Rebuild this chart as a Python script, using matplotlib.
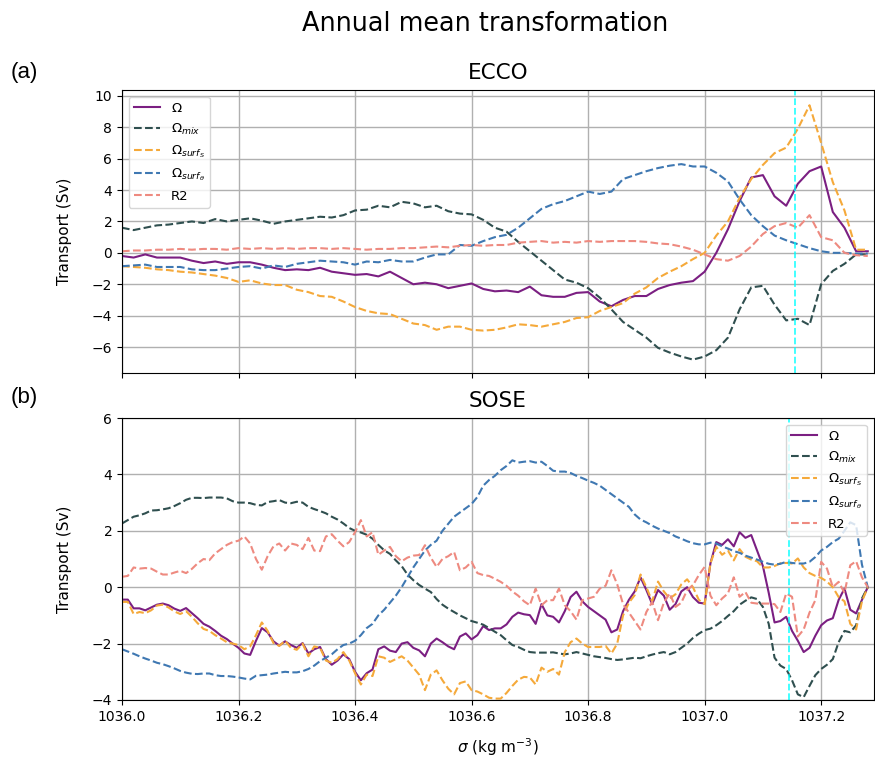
import numpy as np
import matplotlib
matplotlib.use("Agg")
import matplotlib.pyplot as plt

# ---------------- ECCO (step 0.02) ----------------
sigma_ecco = np.round(np.linspace(1036.0, 1037.28, 65), 2)

ecco_omega = [-0.2, -0.3, -0.1, -0.3, -0.3, -0.3, -0.5, -0.65, -0.55, -0.7,
              -0.6, -0.6, -0.75, -0.95, -1.1, -1.05, -1.1, -0.95, -1.2, -1.3,
              -1.4, -1.35, -1.5, -1.2, -1.6, -2.0, -1.9, -2.0, -2.25, -2.1,
              -1.95, -2.3, -2.45, -2.4, -2.5, -2.15, -2.7, -2.8, -2.8, -2.55,
              -2.5, -3.1, -3.4, -3.0, -2.75, -2.75, -2.3, -2.05, -1.9, -1.8,
              -1.2, 0.0, 1.5, 3.3, 4.8, 4.95, 3.6, 3.0, 4.4, 5.2,
              5.5, 2.6, 1.6, 0.1, 0.1]

ecco_mix = [1.6, 1.45, 1.6, 1.75, 1.8, 1.9, 2.0, 1.9, 2.15, 2.0,
            2.1, 2.2, 2.05, 1.85, 2.0, 2.1, 2.2, 2.3, 2.25, 2.4,
            2.7, 2.75, 3.0, 2.9, 3.25, 3.15, 2.9, 3.0, 2.65, 2.5,
            2.45, 2.1, 1.6, 1.35, 0.7, 0.1, -0.5, -1.1, -1.7, -1.9,
            -2.25, -2.85, -3.6, -4.4, -4.9, -5.4, -6.05, -6.35, -6.6, -6.8,
            -6.6, -6.2, -5.4, -3.6, -2.2, -2.1, -3.3, -4.3, -4.2, -4.6,
            -2.0, -1.15, -0.7, -0.1, -0.1]

ecco_surf_s = [-0.85, -0.9, -0.95, -1.05, -1.1, -1.2, -1.25, -1.35, -1.45, -1.6,
               -1.85, -1.75, -1.95, -2.05, -2.05, -2.35, -2.5, -2.75, -2.8, -3.1,
               -3.45, -3.7, -3.85, -3.9, -4.2, -4.5, -4.6, -4.9, -4.7, -4.7,
               -4.9, -4.95, -4.9, -4.75, -4.55, -4.6, -4.7, -4.55, -4.4, -4.15,
               -4.1, -3.7, -3.45, -3.2, -2.6, -2.2, -1.6, -1.2, -0.85, -0.4,
               0.0, 1.1, 2.0, 3.5, 4.7, 5.6, 6.35, 6.7, 7.9, 9.4,
               7.0, 4.5, 2.7, 0.2, 0.2]

ecco_surf_t = [-0.85, -0.8, -0.75, -0.9, -0.9, -0.9, -1.05, -1.1, -1.1, -1.0,
               -0.9, -0.85, -1.0, -0.8, -0.9, -0.7, -0.6, -0.5, -0.55, -0.6,
               -0.75, -0.55, -0.6, -0.45, -0.55, -0.55, -0.3, -0.1, -0.1, 0.5,
               0.45, 0.75, 1.0, 1.15, 1.6, 2.2, 2.8, 3.1, 3.3, 3.6,
               3.9, 3.75, 3.9, 4.7, 4.95, 5.2, 5.4, 5.55, 5.65, 5.5,
               5.5, 5.1, 4.55, 3.4, 2.4, 1.7, 1.1, 0.8, 0.55, 0.3,
               0.1, 0.0, 0.0, -0.05, -0.05]

ecco_r2 = [0.1, 0.15, 0.15, 0.2, 0.2, 0.25, 0.2, 0.25, 0.25, 0.2,
           0.3, 0.25, 0.3, 0.25, 0.3, 0.25, 0.3, 0.3, 0.25, 0.3,
           0.25, 0.2, 0.25, 0.25, 0.3, 0.3, 0.35, 0.4, 0.35, 0.45,
           0.5, 0.45, 0.5, 0.5, 0.65, 0.7, 0.75, 0.65, 0.7, 0.65,
           0.75, 0.7, 0.75, 0.75, 0.75, 0.7, 0.6, 0.55, 0.4, 0.2,
           -0.1, -0.4, -0.5, -0.2, 0.4, 1.2, 1.7, 1.9, 1.6, 2.4,
           1.0, 0.8, 0.0, -0.15, -0.2]

# ---------------- SOSE (step 0.01) ----------------
sigma_sose = np.round(np.linspace(1036.0, 1037.28, 129), 2)

sose_omega = [-0.44, -0.44, -0.75, -0.75, -0.82, -0.72, -0.62, -0.58, -0.64, -0.76,
              -0.84, -0.74, -0.92, -1.1, -1.3, -1.40, -1.55, -1.72, -1.84, -2.0,
              -2.15, -2.35, -2.40, -1.9, -1.45, -1.6, -1.92, -2.07, -1.92, -2.05,
              -2.15, -1.98, -2.35, -2.2, -2.12, -2.55, -2.75, -2.6, -2.38, -2.55,
              -3.0, -3.3, -3.05, -2.92, -2.2, -2.1, -2.25, -2.3, -2.0, -1.95,
              -2.15, -2.24, -2.45, -2.0, -1.82, -1.95, -2.1, -2.2, -1.75, -1.64,
              -1.85, -1.7, -1.38, -1.52, -1.46, -1.46, -1.32, -1.05, -0.9, -0.96,
              -0.99, -1.3, -0.6, -1.0, -1.05, -1.25, -0.85, -0.35, -0.16, -0.5,
              -0.7, -0.85, -1.0, -1.15, -1.6, -1.5, -0.85, -0.45, -0.15, 0.35,
              -0.1, -0.6, -0.1, -0.3, -0.8, -0.6, -0.15, 0.0, -0.35, -0.55,
              -0.58, 0.85, 1.6, 1.5, 1.7, 1.45, 1.95, 1.75, 1.85, 1.3,
              0.75, -0.2, -1.25, -1.2, -1.05, -1.55, -1.9, -2.3, -2.15, -1.72,
              -1.35, -1.18, -1.1, -0.45, -0.05, -0.8, -0.93, -0.45, 0.0]

sose_mix = [2.26, 2.38, 2.5, 2.55, 2.62, 2.72, 2.73, 2.76, 2.8, 2.88,
            2.98, 3.1, 3.17, 3.17, 3.16, 3.18, 3.18, 3.18, 3.15, 3.05,
            3.0, 3.0, 2.98, 2.92, 2.9, 3.02, 3.05, 3.09, 3.0, 2.98,
            3.03, 3.0, 2.85, 2.77, 2.7, 2.62, 2.5, 2.4, 2.26, 2.1,
            2.0, 1.94, 1.86, 1.72, 1.5, 1.31, 1.18, 0.95, 0.75, 0.45,
            0.25, 0.08, -0.05, -0.17, -0.42, -0.62, -0.76, -0.88, -1.0, -1.1,
            -1.2, -1.26, -1.33, -1.45, -1.58, -1.7, -1.88, -2.05, -2.12, -2.22,
            -2.3, -2.32, -2.32, -2.32, -2.31, -2.35, -2.38, -2.35, -2.3, -2.35,
            -2.4, -2.45, -2.48, -2.51, -2.55, -2.58, -2.56, -2.53, -2.5, -2.52,
            -2.45, -2.39, -2.34, -2.3, -2.38, -2.3, -2.15, -2.0, -1.8, -1.65,
            -1.52, -1.47, -1.35, -1.2, -1.02, -0.85, -0.62, -0.48, -0.36, -0.42,
            -0.7, -1.3, -2.5, -2.78, -2.9, -3.3, -3.8, -3.9, -3.5, -3.12,
            -2.9, -2.75, -2.55, -1.95, -1.55, -1.6, -1.35, -0.4, 0.0]

sose_surf_s = [-0.52, -0.52, -0.95, -0.88, -0.92, -0.82, -0.65, -0.62, -0.72, -0.86,
               -0.95, -0.85, -1.05, -1.28, -1.48, -1.55, -1.7, -1.82, -1.95, -2.0,
               -2.05, -2.2, -2.1, -1.7, -1.25, -1.55, -1.98, -2.08, -1.9, -2.15,
               -2.22, -2.0, -2.45, -2.1, -2.15, -2.6, -2.68, -2.55, -2.3, -2.6,
               -3.05, -3.45, -3.1, -3.15, -2.45, -2.5, -2.65, -2.55, -2.45, -2.6,
               -2.85, -3.1, -3.65, -3.1, -2.95, -3.3, -3.6, -3.8, -3.4, -3.34,
               -3.65, -3.7, -3.8, -3.92, -3.95, -3.95, -3.75, -3.5, -3.28, -3.18,
               -3.2, -3.45, -2.85, -3.0, -2.9, -3.1, -2.3, -1.95, -1.82, -2.0,
               -2.12, -2.12, -2.12, -2.08, -2.35, -2.0, -1.0, -0.55, -0.28, 0.45,
               0.0, -0.5, 0.2, -0.15, -0.4, -0.25, 0.1, 0.28, 0.0, -0.45,
               -0.6, 0.85, 1.43, 1.15, 1.3, 0.95, 1.35, 1.08, 0.98, 0.92,
               0.7, 0.7, 0.75, 0.85, 0.86, 0.84, 1.02, 0.7, 0.5, 0.4,
               0.33, 0.2, 0.0, -0.35, -0.5, -1.3, -1.5, -0.5, 0.0]

sose_surf_t = [-2.2, -2.28, -2.36, -2.45, -2.53, -2.6, -2.68, -2.73, -2.8, -2.88,
               -2.97, -3.03, -3.07, -3.08, -3.06, -3.06, -3.12, -3.15, -3.15, -3.17,
               -3.2, -3.24, -3.27, -3.14, -3.12, -3.1, -3.06, -3.03, -3.0, -3.02,
               -3.02, -2.98, -2.9, -2.78, -2.62, -2.5, -2.38, -2.2, -2.05, -2.0,
               -1.9, -1.7, -1.45, -1.3, -1.0, -0.8, -0.55, -0.3, 0.0, 0.35,
               0.7, 1.0, 1.3, 1.5, 1.65, 2.0, 2.25, 2.5, 2.65, 2.8,
               2.95, 3.2, 3.6, 3.8, 3.95, 4.15, 4.3, 4.5, 4.42, 4.45,
               4.47, 4.42, 4.45, 4.3, 4.13, 4.1, 4.1, 4.05, 3.95, 3.87,
               3.78, 3.7, 3.6, 3.45, 3.3, 3.15, 3.0, 2.85, 2.58, 2.4,
               2.3, 2.18, 2.08, 2.0, 1.92, 1.8, 1.72, 1.63, 1.56, 1.52,
               1.52, 1.58, 1.55, 1.45, 1.37, 1.28, 1.22, 1.12, 1.05, 0.98,
               0.9, 0.83, 0.8, 0.83, 0.9, 0.86, 0.84, 0.84, 0.9, 1.07,
               1.3, 1.43, 1.6, 1.72, 2.0, 2.3, 2.2, 0.8, 0.0]

sose_r2 = [0.37, 0.4, 0.7, 0.66, 0.68, 0.66, 0.55, 0.45, 0.45, 0.52,
           0.58, 0.5, 0.65, 0.85, 1.0, 0.96, 1.2, 1.35, 1.5, 1.6,
           1.65, 1.8, 1.55, 1.0, 0.62, 1.1, 1.45, 1.55, 1.3, 1.55,
           1.5, 1.35, 1.75, 1.3, 1.28, 1.8, 1.88, 1.65, 1.45, 1.6,
           1.95, 2.38, 1.8, 1.95, 1.15, 1.3, 1.43, 1.1, 0.92, 1.05,
           1.12, 1.14, 1.49, 1.05, 0.72, 1.0, 1.1, 1.25, 0.6, 0.7,
           0.9, 0.5, 0.43, 0.4, 0.3, 0.19, 0.05, -0.15, -0.3, -0.5,
           -0.64, -0.05, -0.64, -0.46, -0.46, -0.05, -0.64, -0.85, -1.15, -0.46,
           -0.4, -0.34, -0.05, 0.05, 0.6, 0.1, -0.6, -0.9, -1.2, -1.5,
           -0.88, -0.52, -1.17, -0.55, -0.22, -0.7, -0.55, -0.1, 0.07, 0.43,
           0.72, -0.3, -0.64, -0.4, -0.22, 0.35, -0.34, -0.17, -0.55, -0.58,
           -0.58, -0.58, -0.6, -0.88, -0.22, -0.34, -1.75, -1.5, -0.9, -0.46,
           0.9, 0.66, 0.0, 0.19, -0.2, 0.78, 0.92, 0.35, 0.0]

vline_ecco = 1037.155
vline_sose = 1037.145

labels = [r'$\Omega$', r'$\Omega_{mix}$', r'$\Omega_{surf_S}$',
          r'$\Omega_{surf_\theta}$', 'R2']
colors = ['#7b1f82', '#2f4f4f', '#f5a93a', '#3f78b2', '#ee8a80']
styles = ['-', '--', '--', '--', '--']
xticks = [1036.0, 1036.2, 1036.4, 1036.6, 1036.8, 1037.0, 1037.2]

fig = plt.figure(figsize=(8.75, 7.57), dpi=100)
ax1 = fig.add_axes([0.1394, 0.5073, 0.859, 0.3738])
ax2 = fig.add_axes([0.1394, 0.0753, 0.859, 0.3725], sharex=ax1)

ecco = [ecco_omega, ecco_mix, ecco_surf_s, ecco_surf_t, ecco_r2]
sose = [sose_omega, sose_mix, sose_surf_s, sose_surf_t, sose_r2]

for ax, xs, series, vx in [(ax1, sigma_ecco, ecco, vline_ecco),
                            (ax2, sigma_sose, sose, vline_sose)]:
    for ys, lab, c, ls in zip(series, labels, colors, styles):
        ax.plot(xs, ys, ls, color=c, lw=1.5, label=lab)
    ax.axvline(vx, color='cyan', ls='--', lw=1.3, alpha=0.8)
    ax.grid(True, color='#b0b0b0', lw=1.0)
    ax.set_ylabel('Transport (Sv)', fontsize=11, labelpad=14)
    ax.tick_params(labelsize=10)

ax1.set_xlim(1036.0, 1037.29)
ax1.set_xticks(xticks)
ax1.tick_params(labelbottom=False)
ax2.set_xticklabels([f'{t:.1f}' for t in xticks])
ax1.set_ylim(-7.65, 10.37)
ax1.set_yticks([-6, -4, -2, 0, 2, 4, 6, 8, 10])
ax2.set_ylim(-4, 6)
ax2.set_yticks([-4, -2, 0, 2, 4, 6])

ax1.set_title('ECCO', fontsize=15.5, pad=8)
ax2.set_title('SOSE', fontsize=15.5, pad=8)
ax1.legend(loc='upper left', fontsize=9.5)
ax2.legend(loc='upper right', fontsize=9.5)
ax2.set_xlabel(r'$\sigma$ (kg m$^{-3}$)', fontsize=11, labelpad=9)

fig.suptitle('Annual mean transformation', fontsize=18.4, x=0.554, y=0.985)
fig.text(0.012, 0.897, '(a)', fontsize=16, family='Liberation Sans')
fig.text(0.012, 0.468, '(b)', fontsize=16, family='Liberation Sans')

fig.savefig('out.png', dpi=100)
